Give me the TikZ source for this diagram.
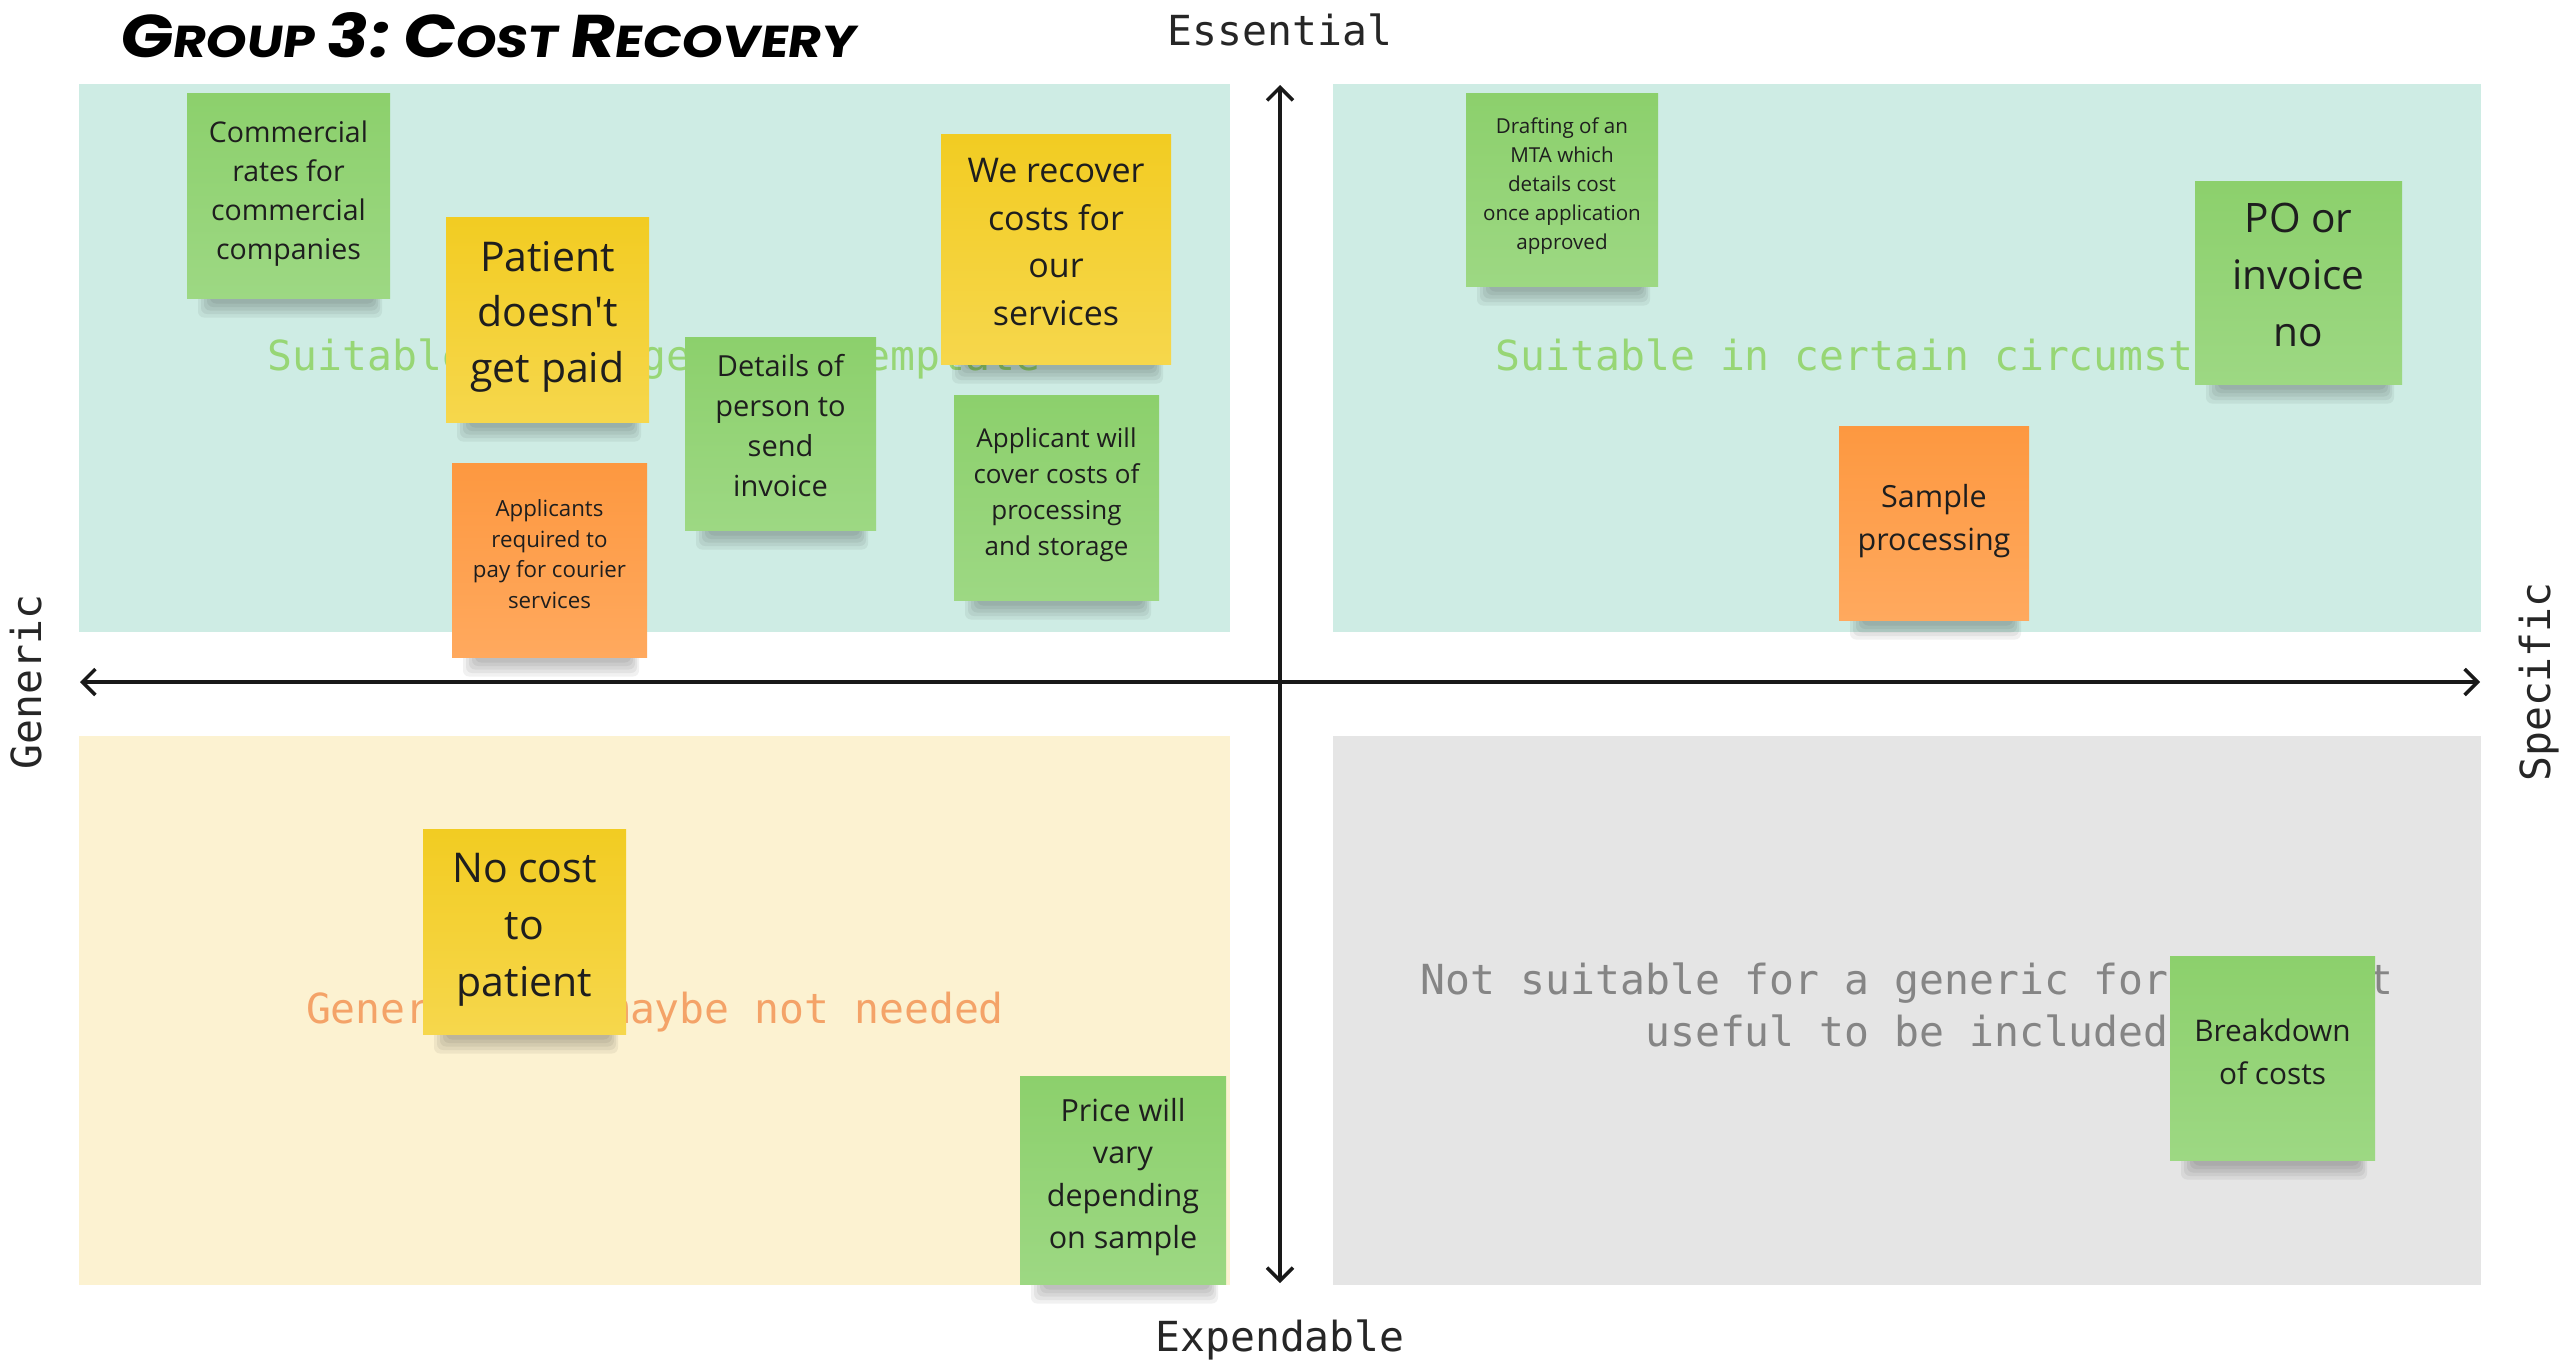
\documentclass[tikz,border=0pt]{standalone}
\usepackage{fontspec}
\usepackage{graphicx}
\setmainfont{Open Sans}[Ligatures=TeXOff]
\newfontfamily\labelmono{DejaVu Sans Mono}
\newfontfamily\titlefont{Poppins}[FakeSlant=0.12]
\usetikzlibrary{arrows.meta}
\definecolor{tealbg}{HTML}{CEECE4}
\definecolor{yellowbg}{HTML}{FCF2D1}
\definecolor{graybg}{HTML}{E5E5E5}
\definecolor{greentop}{HTML}{8CD06C}
\definecolor{greenbot}{HTML}{9DD883}
\definecolor{yellowtop}{HTML}{F2CC22}
\definecolor{yellowbot}{HTML}{F6D74C}
\definecolor{orangetop}{HTML}{FD9840}
\definecolor{orangebot}{HTML}{FFA95E}
\definecolor{notetext}{HTML}{1E1E1E}
\definecolor{greenlbl}{HTML}{97D675}
\definecolor{orangelbl}{HTML}{F4A368}
\definecolor{graylbl}{HTML}{858585}
\tikzset{
  quad/.style={inner sep=0, outer sep=0, anchor=north west},
  axisline/.style={line width=3.5pt, draw=black!90, {Straight Barb[length=13pt,width=26pt,line width=3.5pt]}-{Straight Barb[length=13pt,width=26pt,line width=3.5pt]}},
  axislabel/.style={font=\labelmono\fontsize{41.4}{54}\selectfont, text=black!85, inner sep=0},
  quadlabel/.style={font=\labelmono\fontsize{41.4}{52.5}\selectfont, inner sep=0, align=center},
  notebox/.style={inner sep=0, outer sep=0, anchor=north west},
  notetxt/.style={text=notetext, align=center, inner sep=0}
}
% name, x1, y1, x2, y2, colour, {size}{skip}, yshift, text
\newcommand{\snote}[9]{%
  \foreach \k in {1,...,5} {\fill[black, opacity=0.055, rounded corners=6pt] ({#2+26-3*\k}, {#5-8}) rectangle ({#4-18+2*\k}, {#5+2+3.5*\k});}
  \node[notebox, minimum width={#4-#2}, minimum height={#5-#3}, top color=#6top, bottom color=#6bot] (#1) at (#2,#3) {};
  \node[notetxt, font=\fontsize#7\selectfont] (#1-txt) at ([yshift=#8]#1.center) {#9};
}
\begin{document}
\begin{tikzpicture}[x=1pt, y=-1pt]
\fill[white] (0,0) rectangle (2561,1366);
\useasboundingbox (0,0) rectangle (2561,1366);

% quadrants
\node[quad, fill=tealbg, minimum width=1151, minimum height=548] (qTL) at (79,84) {};
\node[quad, fill=tealbg, minimum width=1148, minimum height=548] (qTR) at (1333,84) {};
\node[quad, fill=yellowbg, minimum width=1151, minimum height=549] (qBL) at (79,736) {};
\node[quad, fill=graybg, minimum width=1148, minimum height=549] (qBR) at (1333,736) {};

% quadrant labels
\node[quadlabel, text=greenlbl, anchor=base] (lTL) at (654,370) {Suitable for a generic template};
\node[quadlabel, text=greenlbl, anchor=base] (lTR) at (1907,370) {Suitable in certain circumstances};
\node[quadlabel, text=orangelbl, anchor=base] (lBL) at (655,1023) {Generic but maybe not needed};
\node[quadlabel, text=graylbl, anchor=center] (lBR) at (1907,1005) {Not suitable for a generic format - but\\useful to be included};

% axes
\coordinate (axTop) at (1280,85);
\coordinate (axBottom) at (1280,1283);
\coordinate (axLeft) at (80,682);
\coordinate (axRight) at (2480,682);
\draw[axisline] (axBottom) -- (axTop);
\draw[axisline] (axLeft) -- (axRight);

% axis labels
\node[axislabel, anchor=base] (essential) at (1280,45) {Essential};
\node[axislabel, anchor=base] (expendable) at (1280,1351) {Expendable};
\node[axislabel, anchor=base, rotate=90] (generic) at (41,682) {Generic};
\node[axislabel, anchor=base, rotate=90] (specific) at (2550,682) {Specific};

% title
\node[anchor=base west, inner sep=0] (title) at (118,57) {\resizebox{737pt}{45pt}{\titlefont\bfseries\fontsize{46}{46}\selectfont
  {\fontsize{62}{62}\selectfont G}ROUP {\fontsize{62}{62}\selectfont 3:}
  {\fontsize{62}{62}\selectfont C}OST
  {\fontsize{62}{62}\selectfont R}ECOVERY}};

% sticky notes
\snote{comm}{187}{93}{390}{298}{green}{{28.5}{39}}{2}{Commercial\\rates for\\commercial\\companies}
\snote{patient}{446}{217}{649}{422}{yellow}{{41}{55.5}}{3}{Patient\\doesn't\\get paid}
\snote{details}{685}{337}{876}{530}{green}{{29}{39.7}}{8}{Details of\\person to\\send\\invoice}
\snote{recover}{941}{134}{1171}{364}{yellow}{{34}{47.9}}{7}{We recover\\costs for\\our\\services}
\snote{applicant}{954}{395}{1159}{600}{green}{{26}{36}}{3}{Applicant will\\cover costs of\\processing\\and storage}
\snote{courier}{452}{463}{647}{657}{orange}{{22.3}{30.5}}{6}{Applicants\\required to\\pay for courier\\services}
\snote{mta}{1466}{93}{1658}{286}{green}{{20.6}{29}}{3}{Drafting of an\\MTA which\\details cost\\once application\\approved}
\snote{po}{2195}{181}{2402}{384}{green}{{40.6}{57}}{8}{PO or\\invoice\\no}
\snote{sample}{1839}{426}{2029}{620}{orange}{{30.5}{42.5}}{2}{Sample\\processing}
\snote{nocost}{423}{829}{626}{1034}{yellow}{{41}{57}}{2}{No cost\\to\\patient}
\snote{price}{1020}{1076}{1226}{1284}{green}{{30.5}{42.5}}{3}{Price will\\vary\\depending\\on sample}
\snote{breakdown}{2170}{956}{2375}{1160}{green}{{29.8}{42.5}}{6}{Breakdown\\of costs}
\end{tikzpicture}
\end{document}
